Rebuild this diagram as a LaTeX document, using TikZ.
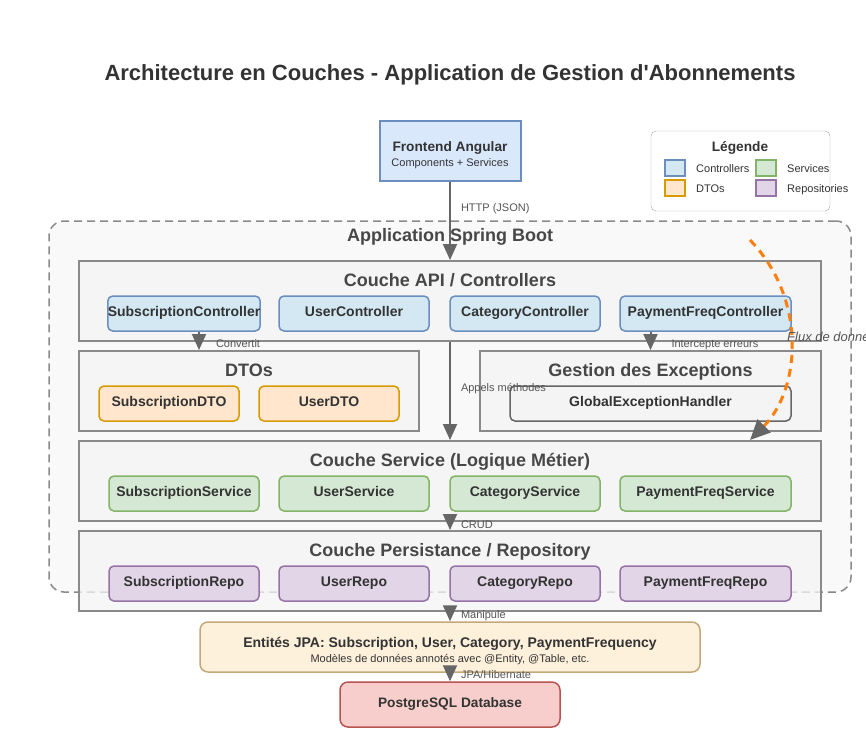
\documentclass[tikz,border=0pt]{standalone}
\usepackage{fontspec}
\setmainfont{Liberation Sans}[Ligatures=TeXOff]
\usetikzlibrary{arrows.meta,calc,positioning}

\definecolor{textdark}{HTML}{333333}
\definecolor{titlegray}{HTML}{474747}
\definecolor{labelgray}{HTML}{555555}
\definecolor{arrowgray}{HTML}{666666}
\definecolor{laygray}{HTML}{8A8A8A}
\definecolor{layfill}{HTML}{F4F4F4}
\definecolor{springfill}{HTML}{F9F9F9}
\definecolor{ctrlfill}{HTML}{D3E8F2}
\definecolor{ctrlline}{HTML}{6C8EBF}
\definecolor{svcfill}{HTML}{D5E8D4}
\definecolor{svcline}{HTML}{82B366}
\definecolor{dtofill}{HTML}{FFE6CC}
\definecolor{dtoline}{HTML}{D79B00}
\definecolor{repofill}{HTML}{E1D5E7}
\definecolor{repoline}{HTML}{9673A6}
\definecolor{frontfill}{HTML}{DAE8FC}
\definecolor{entfill}{HTML}{FDF1DC}
\definecolor{entline}{HTML}{C4A878}
\definecolor{dbfill}{HTML}{F8CECC}
\definecolor{dbline}{HTML}{B85450}
\definecolor{fluxorange}{HTML}{FF7F0E}

\newcommand\fsz[1]{\fontsize{#1}{#1}\selectfont}

\begin{document}
\begin{tikzpicture}[x=1pt,y=-1pt,
txt/.style={inner sep=0pt,text height=7.2pt,text depth=2pt},
layer/.style={draw=laygray,line width=2pt,fill=layfill,fill opacity=.75,draw opacity=1,
  inner sep=0pt,minimum height=80pt},
laytitle/.style={txt,font=\fsz{18}\bfseries,text=titlegray},
comp/.style={txt,rounded corners=5pt,line width=1.5pt,minimum height=35pt,
  font=\fsz{14}\bfseries,text=textdark},
ctrlcol/.style={draw=ctrlline,fill=ctrlfill},
svccol/.style={draw=svcline,fill=svcfill},
dtocol/.style={draw=dtoline,fill=dtofill},
repocol/.style={draw=repoline,fill=repofill},
swatch/.style={line width=2pt,minimum width=20pt,minimum height=16pt,inner sep=0pt},
keylbl/.style={txt,font=\fsz{11},text=textdark,yshift=-2pt},
lbl/.style={txt,anchor=west,xshift=10pt,font=\fsz{11},text=labelgray},
flow/.style={draw=arrowgray,line width=2pt,-{Triangle[width=14pt,length=16pt]}},
dataflow/.style={draw=fluxorange,line width=3pt,dash pattern=on 8pt off 6pt,
  -{Triangle[width=18pt,length=20pt,color=arrowgray]}}]
\useasboundingbox (0,0) rectangle (866,753);

\node [txt,font=\fsz{22}\bfseries,text=textdark] (title) at (450,78.3)
{Architecture en Couches - Application de Gestion d'Abonnements};

% The frontend and the legend
\node [draw=ctrlline,fill=frontfill,line width=2pt,minimum width=141pt,minimum height=60pt]
(frontend) at (450,151) {};
\node [txt,font=\fsz{13.7}\bfseries,text=textdark] (frontend title) at ([yshift=2.2pt]frontend.center) {Frontend Angular};
\node [txt,font=\fsz{11},text=textdark] (frontend note) at ([yshift=-12.9pt]frontend.center) {Components + Services};

\node [draw=gray!70,fill=white,rounded corners=5pt,minimum width=179pt,minimum height=80pt]
(legend) at (740.5,171) {};
\node [txt,font=\fsz{13.7}\bfseries,text=textdark] (legend title) at (740,149.3) {Légende};
\foreach \col/\item/\x/\y in {ctrlcol/Controllers/675/168,svccol/Services/766/168,
  dtocol/DTOs/675/188,repocol/Repositories/766/188}
{
\node [swatch,\col] (key \item) at (\x,\y) {};
\node [keylbl,right=10pt of key \item] (key label \item) {\item};
}

% The Spring Boot application and its layers
\node [draw=laygray,line width=1.5pt,dash pattern=on 8pt off 5pt,fill=springfill,
rounded corners=15pt,minimum width=802pt,minimum height=371pt] (spring) at (450,406.5) {};
\node [laytitle] (spring title) at ([yshift=-18.6pt]spring.north) {Application Spring Boot};

\node [layer,minimum width=742pt] (api) at (450,301) {};
\node [layer,minimum width=340pt] (dtos) at (249,391) {};
\node [layer,minimum width=341pt] (exc) at (650.5,391) {};
\node [layer,minimum width=742pt] (service) at (450,481) {};
\node [layer,minimum width=742pt] (persist) at (450,571) {};

\node [laytitle] at ([yshift=-23.6pt]api.north) {Couche API / Controllers};
\node [laytitle] at ([yshift=-24pt]dtos.north) {DTOs};
\node [laytitle] at ([yshift=-24pt]exc.north) {Gestion des Exceptions};
\node [laytitle] at ([yshift=-24pt]service.north) {Couche Service (Logique Métier)};
\node [laytitle] at ([yshift=-24pt]persist.north) {Couche Persistance / Repository};

\foreach \name/\x/\w [count=\i] in {Subscription/184/150,User/354/150,
  Category/525/150,PaymentFreq/705.5/171}
{
\node [comp,ctrlcol,minimum width=\w pt] (ctrl \i) at (\x,313.5) {\name Controller};
\node [comp,svccol,minimum width=\w pt] (svc \i) at (\x,493.5) {\name Service};
\node [comp,repocol,minimum width=\w pt] (repo \i) at (\x,583.5) {\name Repo};
}
\node [comp,dtocol,minimum width=140pt] (dto 1) at (169,403.5) {SubscriptionDTO};
\node [comp,dtocol,minimum width=140pt] (dto 2) at (329,403.5) {UserDTO};
\node [comp,draw=arrowgray,fill=layfill,minimum width=281pt] (handler) at (650.5,403.5)
{GlobalExceptionHandler};

% Entities and database
\node [draw=entline,fill=entfill,line width=1.5pt,rounded corners=8pt,minimum width=500pt,
minimum height=50pt] (entities) at (450,647) {};
\node [txt,font=\fsz{14}\bfseries,text=textdark] (entities title) at ([yshift=2.1pt]entities.center)
{Entités JPA: Subscription, User, Category, PaymentFrequency};
\node [txt,font=\fsz{11},text=textdark] (entities note) at ([yshift=-12.4pt]entities.center)
{Modèles de données annotés avec @Entity, @Table, etc.};
\node [comp,draw=dbline,fill=dbfill,rounded corners=8pt,font=\fsz{13.7}\bfseries,
minimum width=220pt,minimum height=45pt] (db) at (450,704.5) {PostgreSQL Database};

% Connectors
\draw [flow] (frontend) -- node [lbl,pos=.35] {HTTP (JSON)} (api);
\draw [flow] ($(ctrl 1.south)+(15,0)$) -- node [lbl,pos=.72,xshift=6pt] {Convertit}
($(ctrl 1.south |- dtos.north)+(15,0)$);
\draw [flow] (exc.north |- ctrl 4.south) -- node [lbl,pos=.72,xshift=10pt] {Intercepte erreurs}
(exc.north);
\draw [flow] (api) -- node [lbl,pos=.48] {Appels méthodes} (service);
\draw [flow] (service) -- node [lbl,pos=.5] {CRUD} (persist);
\draw [flow] (persist) -- node [lbl,pos=.45] {Manipule} (entities);
\draw [flow] (entities) -- node [lbl,pos=.4] {JPA/Hibernate} (db);

\coordinate (flux start) at (750,240);
\draw [dataflow] (flux start) .. controls (808,300) and (800,390) .. (flux start |- service.north);
\node [txt,anchor=west,font=\fsz{13}\itshape,text=labelgray] (flux label) at (787,339)
{Flux de données};
\end{tikzpicture}
\end{document}
